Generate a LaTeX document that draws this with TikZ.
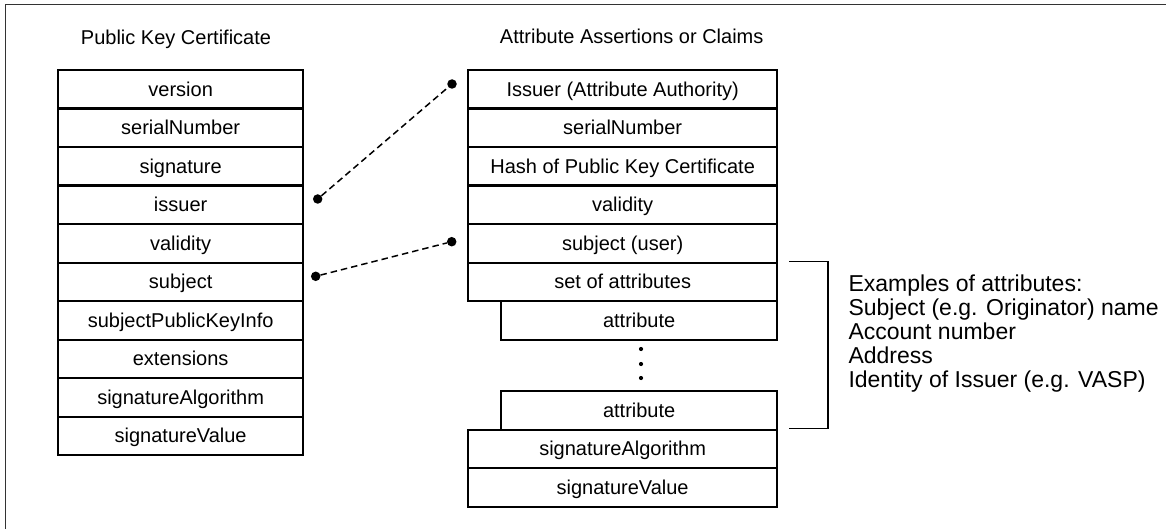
\documentclass[tikz,border=0pt]{standalone}
\usepackage{fontspec}
\setmainfont{Liberation Sans}
\begin{document}
\begin{tikzpicture}[x=1pt,y=-1pt,
  cell/.style={draw=black, line width=2.3pt, minimum height=38.5pt, inner sep=0pt,
    text height=17pt, text depth=3.5pt, font=\fontsize{20}{24}\selectfont, anchor=north west},
  leftcell/.style={cell, minimum width=245pt},
  rightcell/.style={cell, minimum width=309pt},
  attrcell/.style={cell, minimum width=276pt},
  title/.style={font=\fontsize{20}{24}\selectfont, anchor=base, inner sep=0pt},
  dotnode/.style={circle, fill=black, minimum size=9.5pt, inner sep=0pt},
  smalldot/.style={circle, fill=black, minimum size=4.2pt, inner sep=0pt},
  linkline/.style={line width=1.5pt, dash pattern=on 6.5pt off 4pt},
  bracketline/.style={line width=1.3pt, black},
  frameline/.style={line width=1.4pt, black!80},
  examples/.style={font=\fontsize{23}{24}\selectfont, align=left, anchor=north west, inner sep=0pt}
]
\useasboundingbox (0,0) rectangle (1166,529);
\draw[frameline] (1170,4.5) -| (5.5,535);

% titles
\node[title] (t1) at (176,44.3) {Public Key Certificate};
\node[title] (t2) at (631.7,44) {Attribute Assertions or Claims};

% left column
\node[leftcell] (lv)  at (57,69)    {version};
\node[leftcell] (lsn) at (57,107.5) {serialNumber};
\node[leftcell] (lsg) at (57,146)   {signature};
\node[leftcell] (lis) at (57,184.5) {issuer};
\node[leftcell] (lva) at (57,223)   {validity};
\node[leftcell] (lsu) at (57,261.5) {subject};
\node[leftcell] (lpk) at (57,300)   {subjectPublicKeyInfo};
\node[leftcell] (lex) at (57,338.5) {extensions};
\node[leftcell] (lsa) at (57,377)   {signatureAlgorithm};
\node[leftcell] (lsv) at (57,415.5) {signatureValue};

% right column
\node[rightcell] (ris) at (467,69)    {Issuer (Attribute Authority)};
\node[rightcell] (rsn) at (467,107.5) {serialNumber};
\node[rightcell] (rh)  at (467,146)   {Hash of Public Key Certificate};
\node[rightcell] (rva) at (467,184.5) {validity};
\node[rightcell] (rsu) at (467,223)   {subject (user)};
\node[rightcell] (rso) at (467,261.5) {set of attributes};
\node[attrcell]  (ra1) at (500,300)   {attribute};
\node[attrcell]  (ra2) at (500,390)   {attribute};
\node[rightcell] (rsa) at (467,428.5) {signatureAlgorithm};
\node[rightcell] (rsv) at (467,467)   {signatureValue};

% vertical ellipsis
\node[smalldot] (e1) at (641,349) {};
\node[smalldot] (e2) at (641,364) {};
\node[smalldot] (e3) at (641,378) {};

% links
\node[dotnode] (d1) at (317.7,199) {};
\node[dotnode] (d2) at (452,84) {};
\node[dotnode] (d3) at (315.7,276.3) {};
\node[dotnode] (d4) at (451.7,241.7) {};
\draw[linkline] (d1) -- (d2);
\draw[linkline] (d3) -- (d4);

% bracket
\coordinate (b1) at (789,261.7);
\coordinate (b2) at (828,261.7);
\coordinate (b3) at (828,428.3);
\coordinate (b4) at (789,428.3);
\draw[bracketline] (b1) -- (b2) -- (b3) -- (b4);

\node[examples] (ex) at (848.3,274.2) {Examples of attributes:\\Subject (e.g. Originator) name\\Account number\\Address\\Identity of Issuer (e.g. VASP)};
\end{tikzpicture}
\end{document}
